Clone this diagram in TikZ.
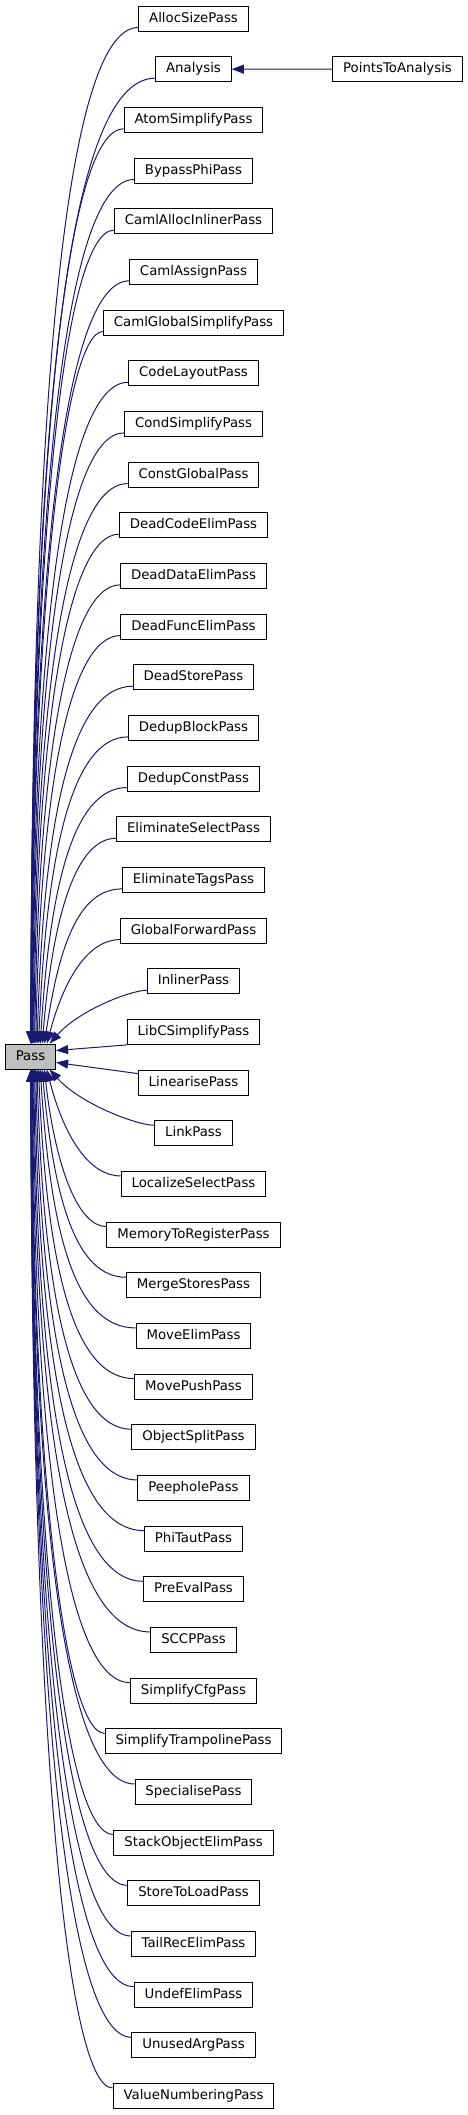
\documentclass[tikz,border=0pt]{standalone}
\usepackage{fontspec}
\setmainfont{DejaVu Sans}
\usetikzlibrary{arrows.meta,calc}
\definecolor{edgeblue}{HTML}{191970}
\definecolor{passfill}{HTML}{BFBFBF}
\begin{document}
\begin{tikzpicture}[x=1pt,y=-1pt,
  box/.style={draw=black, line width=1pt, fill=white, minimum height=25pt,
    inner xsep=10.4pt, inner ysep=0pt, text height=9.7pt, text depth=2.5pt,
    font=\fontsize{13.3}{15}\selectfont, anchor=center},
  edge/.style={draw=edgeblue, line width=1pt, -{Triangle[length=12pt,width=9pt]}}]
\useasboundingbox (0,0) rectangle (468,2115);
\node[box, fill=passfill] (pass) at (30.5,1056.5) {Pass};
\foreach \name [count=\i from 0] in {AllocSizePass, Analysis, AtomSimplifyPass, BypassPhiPass, CamlAllocInlinerPass, CamlAssignPass, CamlGlobalSimplifyPass, CodeLayoutPass, CondSimplifyPass, ConstGlobalPass, DeadCodeElimPass, DeadDataElimPass, DeadFuncElimPass, DeadStorePass, DedupBlockPass, DedupConstPass, EliminateSelectPass, EliminateTagsPass, GlobalForwardPass, InlinerPass, LibCSimplifyPass, LinearisePass, LinkPass, LocalizeSelectPass, MemoryToRegisterPass, MergeStoresPass, MoveElimPass, MovePushPass, ObjectSplitPass, PeepholePass, PhiTautPass, PreEvalPass, SCCPPass, SimplifyCfgPass, SimplifyTrampolinePass, SpecialisePass, StackObjectElimPass, StoreToLoadPass, TailRecElimPass, UndefElimPass, UnusedArgPass, ValueNumberingPass} {
  \pgfmathsetmacro\yc{18.5+50.67*\i}
  \node[box] (n\i) at (193.5,\yc) {\name};
}
\node[box] (pta) at (397.5,69.2) {PointsToAnalysis};
\draw[edge] (pta) -- (n1);
% upper children
\foreach \i in {0,...,19} {
  \pgfmathsetmacro\dyy{1034.5-(18.5+50.67*\i)}
  \pgfmathsetmacro\xo{26+22*(1-\dyy/1040)^3}
  \draw[edge] let \p1=($(n\i.south west)+(0,-4)$), \p2=($(pass.north west)+(\xo,0)$) in
    (\p1) .. controls ({max(\x1-0.3*((\y1)-(\y2)),\x2+34)},\y1)
    and ({\x2+0.4*(\x1-\x2)*exp(-((\y1)-(\y2))/200)},{\y2+0.63*((\y1)-(\y2))}) .. (\p2);
}
% side children
\draw[edge] (n20.south west) -- ($(pass.east)+(0,-6)$);
\draw[edge] ($(n21.north west)+(0,4)$) -- ($(pass.east)+(0,6)$);
% lower children
\foreach \i in {22,...,41} {
  \pgfmathsetmacro\dyy{(18.5+50.67*\i)-1076.5}
  \pgfmathsetmacro\xo{26+22*(1-\dyy/1040)^3}
  \draw[edge] let \p1=($(n\i.north west)+(0,5)$), \p2=($(pass.south west)+(\xo,0)$) in
    (\p1) .. controls ({max(\x1-0.3*((\y2)-(\y1)),\x2+34)},\y1)
    and ({\x2+0.4*(\x1-\x2)*exp(-((\y2)-(\y1))/200)},{\y2-0.63*((\y2)-(\y1))}) .. (\p2);
}
\end{tikzpicture}
\end{document}
